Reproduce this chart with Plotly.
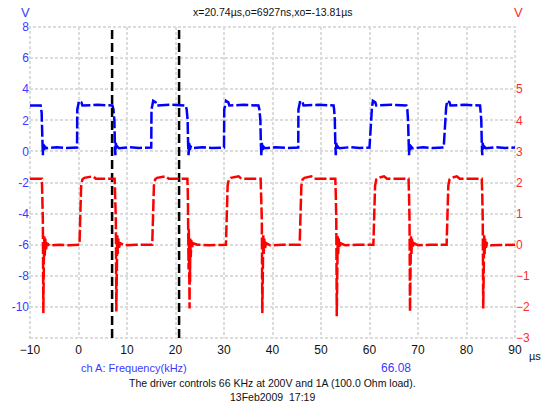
import plotly.graph_objects as go

# ---------------- data ----------------
x_ticks = [-10, 0, 10, 20, 30, 40, 50, 60, 70, 80, 90]
left_ticks = [-12, -10, -8, -6, -4, -2, 0, 2, 4, 6, 8]
left_tick_text = ["", "-10", "-8", "-6", "-4", "-2", "0", "2", "4", "6", "8"]
right_ticks = [-3, -2, -1, 0, 1, 2, 3, 4, 5]

cursor_x = [6.927, 20.74]   # o cursor and x cursor (µs)

# Channel B (blue, left axis, V)
blue_t = [
    -10.0,
    -7.8, -7.6, -7.45, -7.35, -7.25, -7.1, -6.9, -6.6, -4.5, -2.5, -0.3,
    -0.25, -0.05, 0.1, 0.6, 0.8, 4.0, 7.0,
    7.2, 7.4, 7.5, 7.6, 7.7, 7.85, 8.05, 8.35, 10.5, 12.5, 15.0,
    15.05, 15.25, 15.4, 15.9, 16.1, 19.0, 22.1,
    22.3, 22.5, 22.6, 22.7, 22.8, 22.95, 23.15, 23.45, 25.5, 27.5, 30.0,
    30.05, 30.25, 30.4, 30.9, 31.1, 34.0, 37.1,
    37.3, 37.5, 37.6, 37.7, 37.8, 37.95, 38.15, 38.45, 40.5, 43.0, 45.3,
    45.35, 45.55, 45.7, 46.2, 46.4, 49.5, 52.6,
    52.7, 52.85, 52.95, 53.05, 53.15, 53.3, 53.5, 53.8, 56.0, 58.0, 60.0,
    60.3, 60.5, 60.7, 61.2, 61.4, 64.5, 67.6,
    67.8, 67.95, 68.05, 68.15, 68.25, 68.4, 68.6, 68.9, 71.0, 73.0, 75.3,
    75.6, 75.8, 76.0, 76.5, 76.7, 79.5, 82.8,
    82.9, 83.05, 83.15, 83.25, 83.35, 83.5, 83.7, 84.0, 86.0, 88.0, 90.0,
]
blue_v = [
    2.95,
    2.95, 2.5, 0.5, -0.25, 0.55, 0.1, 0.3, 0.2, 0.27, 0.22, 0.25,
    2.7, 3.0, 3.25, 3.15, 2.95, 3.0, 2.95,
    2.7, 2.0, 0.5, -0.25, 0.55, 0.1, 0.3, 0.2, 0.27, 0.22, 0.25,
    2.7, 3.0, 3.25, 3.15, 2.95, 3.0, 2.95,
    2.7, 2.0, 0.5, -0.25, 0.55, 0.1, 0.3, 0.2, 0.27, 0.22, 0.25,
    2.7, 3.0, 3.25, 3.15, 2.95, 3.0, 2.95,
    2.7, 2.0, 0.5, -0.25, 0.55, 0.1, 0.3, 0.2, 0.27, 0.22, 0.25,
    2.7, 3.0, 3.25, 3.15, 2.95, 3.0, 2.95,
    2.7, 2.0, 0.5, -0.25, 0.55, 0.1, 0.3, 0.2, 0.27, 0.22, 0.25,
    2.0, 2.8, 3.25, 3.15, 2.95, 3.0, 2.95,
    2.7, 2.0, 0.5, -0.25, 0.55, 0.1, 0.3, 0.2, 0.27, 0.22, 0.25,
    2.0, 2.8, 3.25, 3.15, 2.95, 3.0, 2.95,
    2.7, 2.0, 0.5, -0.25, 0.55, 0.1, 0.3, 0.2, 0.27, 0.22, 0.25,
]

# Channel A (red, right axis, V)
red_t = [
    -10.0,
    -7.55, -7.35, -7.25, -7.15, -7.05, -6.95, -6.85, -6.7, -6.5, -6.0, -4.0, -2.0, 0.2,
    0.35, 0.55, 0.8, 1.2, 3.0, 3.6, 7.4,
    7.45, 7.55, 7.7, 7.8, 7.9, 8.0, 8.1, 8.2, 8.35, 8.6, 9.5, 12.0, 15.2,
    15.35, 15.55, 15.8, 16.2, 18.0, 18.6, 22.4,
    22.45, 22.55, 22.65, 22.7, 22.75, 22.8, 22.85, 22.9, 22.95, 23.0, 23.05, 23.15, 23.25, 23.4, 23.6, 24.5, 27.0, 30.4,
    30.55, 30.75, 31.0, 31.4, 33.0, 33.6, 37.5,
    37.55, 37.65, 37.8, 37.9, 38.0, 38.1, 38.2, 38.3, 38.45, 38.7, 39.5, 42.0, 45.6,
    45.75, 45.95, 46.2, 46.6, 48.0, 48.6, 52.9,
    52.95, 53.05, 53.15, 53.25, 53.35, 53.45, 53.55, 53.65, 53.8, 54.05, 55.0, 57.5, 60.8,
    60.95, 61.15, 61.4, 61.8, 63.0, 63.6, 68.0,
    68.05, 68.15, 68.25, 68.35, 68.45, 68.55, 68.65, 68.75, 68.9, 69.15, 70.0, 72.5, 75.9,
    76.05, 76.25, 76.5, 76.9, 78.0, 78.6, 83.1,
    83.15, 83.25, 83.35, 83.45, 83.55, 83.65, 83.75, 83.85, 84.0, 84.25, 85.0, 87.5, 90.0,
]
red_v = [
    2.12,
    2.12, 0.8, -2.2, -0.6, 0.3, -0.35, 0.2, -0.15, 0.05, -0.03, 0.0, -0.02, 0.0,
    1.0, 1.9, 2.1, 2.15, 2.2, 2.12, 2.12,
    2.12, 1.6, 0.8, -2.15, -0.5, 0.3, -0.3, 0.2, -0.1, 0.05, -0.02, 0.0, 0.0,
    1.0, 1.9, 2.1, 2.15, 2.2, 2.12, 2.12,
    2.12, 1.6, 0.8, -0.8, 0.5, -1.5, 0.3, -2.05, 0.0, -1.2, 0.2, -0.4, 0.15, -0.1, 0.05, 0.0, -0.02, 0.0,
    1.0, 1.9, 2.1, 2.15, 2.2, 2.12, 2.12,
    2.12, 1.6, 0.8, -2.2, -0.5, 0.3, -0.3, 0.2, -0.1, 0.05, -0.02, 0.0, 0.0,
    1.0, 1.9, 2.1, 2.15, 2.2, 2.12, 2.12,
    2.12, 1.6, 0.8, -2.3, -0.5, 0.3, -0.3, 0.2, -0.1, 0.05, -0.02, 0.0, 0.0,
    1.0, 1.9, 2.1, 2.15, 2.2, 2.12, 2.12,
    2.12, 1.6, 0.8, -2.15, -0.5, 0.3, -0.3, 0.2, -0.1, 0.05, -0.02, 0.0, 0.0,
    1.0, 1.9, 2.1, 2.15, 2.2, 2.12, 2.12,
    2.12, 1.6, 0.8, -2.05, -0.5, 0.3, -0.3, 0.2, -0.1, 0.05, -0.02, 0.0, 0.0,
]

title_text = "x=20.74µs,o=6927ns,xo=-13.81µs"
channel_label = "ch A: Frequency(kHz)"
channel_value = "66.08"
caption = "The driver controls 66 KHz at 200V and 1A (100.0 Ohm load)."
date_text = "13Feb2009  17:19"

# ---------------- styling ----------------
FONT = "Liberation Sans, Arial, sans-serif"
BLUE = "#0000ff"
RED = "#ff0000"
BLUE_TXT = "#3a3aff"
RED_TXT = "#ff2a2a"
GRID = "#dcdcdc"

x_range = [-10, 90]
y_range = [-12, 8]
y2_range = [-3, 7]

fig = go.Figure()

fig.add_trace(go.Scatter(
    x=blue_t, y=blue_v, mode="lines", yaxis="y",
    line=dict(color=BLUE, width=2.5, dash="12px,3px"),
    showlegend=False, hoverinfo="skip"))

fig.add_trace(go.Scatter(
    x=red_t, y=red_v, mode="lines", yaxis="y2",
    line=dict(color=RED, width=2.5, dash="12px,3px"),
    showlegend=False, hoverinfo="skip"))

for cx in cursor_x:
    fig.add_trace(go.Scatter(
        x=[cx, cx], y=y_range, mode="lines", yaxis="y",
        line=dict(color="black", width=2.5, dash="9px,4px"),
        showlegend=False, hoverinfo="skip"))

# plot frame (dotted like the grid)
fig.add_shape(type="rect", xref="paper", yref="paper", x0=0, y0=0, x1=1, y1=1,
              line=dict(color=GRID, width=2, dash="3px,2px"), layer="below")

ann = []
def A(text, x, y, color="#111111", size=11, xanchor="center"):
    ann.append(dict(text=text, x=x, y=y, xref="paper", yref="paper",
                    showarrow=False, xanchor=xanchor, yanchor="middle",
                    font=dict(family=FONT, size=size, color=color)))

A(title_text, 0.5, 1.048, size=10.5)
A("V", -0.0102, 1.048, color=BLUE_TXT, size=13)
A("V", 1.008, 1.048, color=RED_TXT, size=13)
A("µs", 1.041, -0.058)
A(channel_label, 0.215, -0.0965, color=BLUE_TXT, size=11)
A(channel_value, 0.754, -0.0965, color=BLUE_TXT, size=12)
A(caption, 0.5, -0.1447, size=10.5)
A(date_text, 0.5, -0.19, size=10.5)

fig.update_layout(
    width=544, height=407,
    margin=dict(l=27, r=29, t=27, b=69),
    paper_bgcolor="white", plot_bgcolor="white",
    font=dict(family=FONT, size=11, color="#111111"),
    annotations=ann,
    xaxis=dict(range=x_range, tickvals=x_ticks, showgrid=True,
               gridcolor=GRID, gridwidth=2, griddash="3px,2px",
               zeroline=False, showline=False, ticks="",
               ticklabelstandoff=3,
               tickfont=dict(family=FONT, size=12, color="#111111")),
    yaxis=dict(range=y_range, tickvals=left_ticks, ticktext=left_tick_text,
               showgrid=True, gridcolor=GRID, gridwidth=2, griddash="3px,2px",
               zeroline=False, showline=False, ticks="",
               tickfont=dict(family=FONT, size=12, color=BLUE_TXT)),
    yaxis2=dict(range=y2_range, tickvals=right_ticks, overlaying="y", side="right",
                showgrid=False, zeroline=False, showline=False, ticks="",
                tickfont=dict(family=FONT, size=12, color=RED_TXT)),
)

fig.write_html("out.html",
               config={"displayModeBar": False},
               post_script="document.body.style.margin='0';document.body.style.overflow='hidden';")
